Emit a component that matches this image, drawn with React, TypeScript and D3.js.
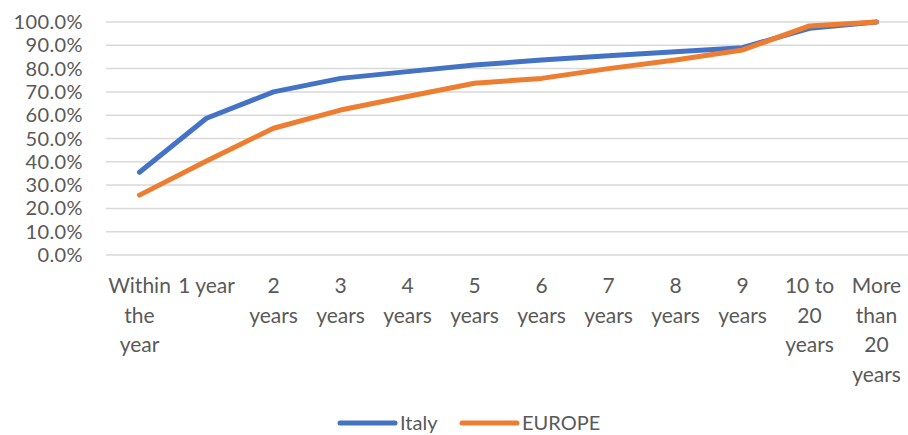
import React, { useEffect, useRef } from "react";
import * as d3 from "d3";

const categories = [
  "Within the year",
  "1 year",
  "2 years",
  "3 years",
  "4 years",
  "5 years",
  "6 years",
  "7 years",
  "8 years",
  "9 years",
  "10 to 20 years",
  "More than 20 years",
];
const italy = [0.355, 0.587, 0.7, 0.758, 0.787, 0.815, 0.837, 0.855, 0.872, 0.89, 0.973, 1.0];
const europe = [0.257, 0.403, 0.544, 0.622, 0.68, 0.737, 0.758, 0.8, 0.837, 0.88, 0.983, 1.0];
const yTicks = [0, 0.1, 0.2, 0.3, 0.4, 0.5, 0.6, 0.7, 0.8, 0.9, 1.0];
const seriesNames = ["Italy", "EUROPE"];
const colors = ["#4472C4", "#ED7D31"];

const W = 908;
const H = 435;
const FONT = "Lato, 'Open Sans', sans-serif";
const FS = 21;
const FS_Y = 20;

function wrapLabel(label: string, maxW: number): string[] {
  const canvas = document.createElement("canvas");
  const ctx = canvas.getContext("2d")!;
  ctx.font = `${FS}px ${FONT}`;
  const words = label.split(" ");
  const lines: string[] = [];
  let cur = "";
  for (const w of words) {
    const t = cur ? cur + " " + w : w;
    if (cur && ctx.measureText(t).width > maxW) {
      lines.push(cur);
      cur = w;
    } else cur = t;
  }
  if (cur) lines.push(cur);
  return lines;
}

export default function App() {
  const ref = useRef<SVGSVGElement>(null);
  useEffect(() => {
    const svg = d3.select(ref.current!);
    svg.selectAll("*").remove();
    const x = d3.scaleBand<string>().domain(categories).range([106, 910]);
    const y = d3.scaleLinear().domain([0, 1]).range([255, 22]);
    const cx = (c: string) => (x(c) as number) + x.bandwidth() / 2;

    const g = svg.append("g");
    g.selectAll("line.grid")
      .data(yTicks)
      .join("line")
      .attr("x1", 106)
      .attr("x2", 910)
      .attr("y1", (d) => y(d))
      .attr("y2", (d) => y(d))
      .attr("stroke", "#D9D9D9")
      .attr("stroke-width", 1.5);

    g.selectAll("text.ytick")
      .data(yTicks)
      .join("text")
      .attr("x", 83)
      .attr("y", (d) => y(d))
      .attr("dy", "0.35em")
      .attr("text-anchor", "end")
      .attr("fill", "#595959")
      .style("font-family", FONT)
      .style("font-size", FS_Y + "px")
      .style("letter-spacing", "0.4px")
      .text((d) => d3.format(".1%")(d));

    categories.forEach((c) => {
      const lines = wrapLabel(c, 62);
      const t = g
        .append("text")
        .attr("text-anchor", "middle")
        .attr("fill", "#595959")
        .style("font-family", FONT)
        .style("font-size", FS + "px");
      lines.forEach((ln, i) => {
        t.append("tspan").attr("x", cx(c)).attr("y", 293 + i * 29.5).text(ln);
      });
    });

    const line = d3
      .line<number>()
      .x((_, i) => cx(categories[i]))
      .y((d) => y(d));
    [italy, europe].forEach((s, i) => {
      g.append("path")
        .attr("d", line(s)!)
        .attr("fill", "none")
        .attr("stroke", colors[i])
        .attr("stroke-width", 5)
        .attr("stroke-linecap", "round")
        .attr("stroke-linejoin", "round");
    });

    const legendX = [340, 462];
    seriesNames.forEach((n, i) => {
      g.append("line")
        .attr("x1", legendX[i])
        .attr("x2", legendX[i] + 55)
        .attr("y1", 423)
        .attr("y2", 423)
        .attr("stroke", colors[i])
        .attr("stroke-width", 5)
        .attr("stroke-linecap", "round");
      g.append("text")
        .attr("x", legendX[i] + 60)
        .attr("y", 430)
        .attr("fill", "#595959")
        .style("font-family", FONT)
        .style("font-size", FS_Y + "px")
        .text(n);
    });
  }, []);
  return (
    <svg
      ref={ref}
      width={W}
      height={H}
      style={{ position: "absolute", left: 0, top: 0, background: "#fff", display: "block" }}
    />
  );
}
